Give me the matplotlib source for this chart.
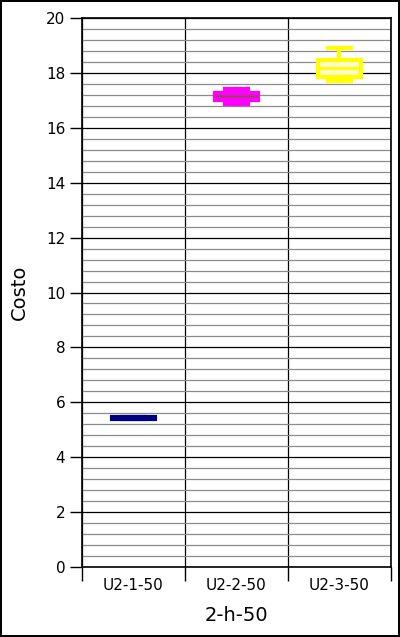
import numpy as np
import matplotlib
matplotlib.use('Agg')
import matplotlib.pyplot as plt
from matplotlib.ticker import MultipleLocator, FixedLocator

# Box stats
categories = ['U2-1-50', 'U2-2-50', 'U2-3-50']
whislo = [5.38, 16.87, 17.70]
q1 = [5.40, 17.01, 17.85]
med = [5.42, 17.15, 18.19]
q3 = [5.45, 17.27, 18.47]
whishi = [5.47, 17.40, 18.92]
edge_colors = ['#000080', '#ff00ff', '#ffff00']
face_colors = ['#000080', '#ff60ff', '#ffffc8']
median_colors = ['#000080', '#b0307f', '#ffff00']

fig = plt.figure(figsize=(4.0, 6.37), dpi=100)
fig.patch.set_edgecolor('black')
fig.patch.set_linewidth(1.5)
ax = fig.add_axes([0.205, 0.1099, 0.7725, 0.8618])

stats = []
for i in range(len(categories)):
    stats.append({'whislo': whislo[i], 'q1': q1[i], 'med': med[i],
                  'q3': q3[i], 'whishi': whishi[i], 'fliers': []})

for i, s in enumerate(stats):
    ax.bxp([s], positions=[i + 1], widths=0.42, capwidths=0.23,
           patch_artist=True, showfliers=False,
           boxprops=dict(facecolor=face_colors[i], edgecolor=edge_colors[i], linewidth=3),
           whiskerprops=dict(color=edge_colors[i], linewidth=3),
           capprops=dict(color=edge_colors[i], linewidth=3),
           medianprops=dict(color=median_colors[i], linewidth=2),
           zorder=3)

ax.set_xlim(0.5, 3.5)
ax.set_ylim(0, 20)

ax.yaxis.set_major_locator(MultipleLocator(2))
ax.yaxis.set_minor_locator(MultipleLocator(0.4))
ax.grid(which='major', axis='y', color='black', linewidth=0.9, zorder=0)
ax.grid(which='minor', axis='y', color='#8c8c8c', linewidth=0.9, zorder=0)
ax.tick_params(axis='y', which='minor', length=0)
ax.tick_params(axis='y', which='major', length=9, width=1, labelsize=11, pad=3)

# category boundaries as ticks and vertical lines
ax.xaxis.set_major_locator(FixedLocator([0.5, 1.5, 2.5, 3.5]))
ax.xaxis.set_minor_locator(FixedLocator([1, 2, 3]))
ax.set_xticklabels([])
ax.set_xticklabels(categories, minor=True)
ax.tick_params(axis='x', which='major', length=10, width=1)
ax.tick_params(axis='x', which='minor', length=0, labelsize=11, pad=8)
ax.grid(which='major', axis='x', color='black', linewidth=0.9, zorder=0)

for sp in ax.spines.values():
    sp.set_linewidth(1.2)

ax.set_ylabel('Costo', fontsize=14, labelpad=12)
ax.set_xlabel('2-h-50', fontsize=14, labelpad=9)

fig.savefig('out.png', dpi=100)
